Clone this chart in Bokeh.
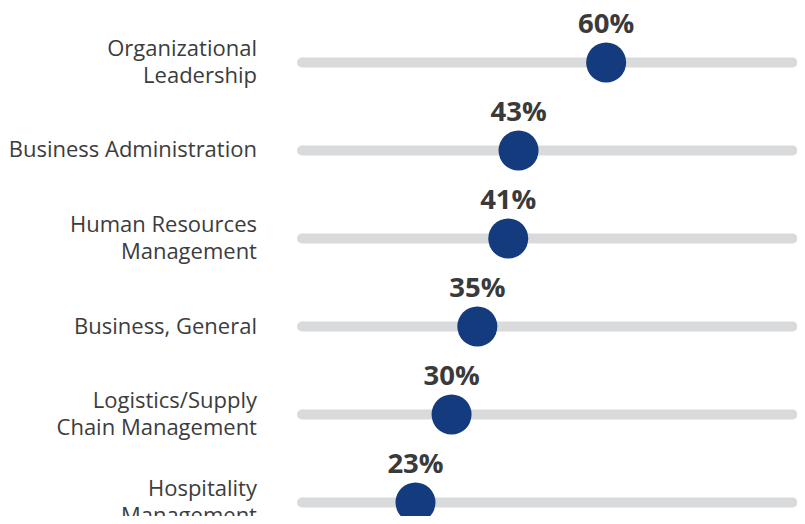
from bokeh.plotting import figure
from bokeh.models import Range1d, ColumnDataSource
from bokeh.core.properties import value
from bokeh.embed import file_html
from bokeh.resources import INLINE

categories = ["Organizational\nLeadership", "Business Administration",
              "Human Resources\nManagement", "Business, General",
              "Logistics/Supply\nChain Management", "Hospitality\nManagement"]
values = [60, 43, 41, 35, 30, 23]
value_labels = ["60%", "43%", "41%", "35%", "30%", "23%"]
track_start = [0] * 6
track_end = [100] * 6

rows = list(range(len(categories)))
src = ColumnDataSource(dict(cat=categories, val=values, lab=value_labels,
                            y=rows, x0=track_start, x1=track_end))

p = figure(width=797, height=516, output_backend="svg", toolbar_location=None,
           x_range=Range1d(-57.53, 97.13), y_range=Range1d(5.159, -0.7045),
           min_border=0, outline_line_color=None)
p.axis.visible = False
p.grid.visible = False
p.background_fill_color = "white"
p.border_fill_color = "white"

p.hbar(y="y", left="x0", right="x1", height=0.115, source=src,
       fill_color="#d9dadb", line_color=None, border_radius=5)
p.scatter(x="val", y="y", source=src, size=40, fill_color="#133b7d",
          line_color=None)
p.text(x="val", y="y", text="lab", source=src, y_offset=-40,
       text_align="center", text_baseline="alphabetic",
       text_font=value("Open Sans"), text_font_style="bold",
       text_font_size="27.5px", text_color="#3a3a3a")
p.text(x="x0", y="y", text="cat", source=src, x_offset=-40, y_offset=-2,
       text_align="right", text_baseline="middle",
       text_font=value("Open Sans"), text_font_size="22px",
       text_color="#3c3c3c", text_line_height=0.9)

open("out.html", "w").write(file_html(p, INLINE))
